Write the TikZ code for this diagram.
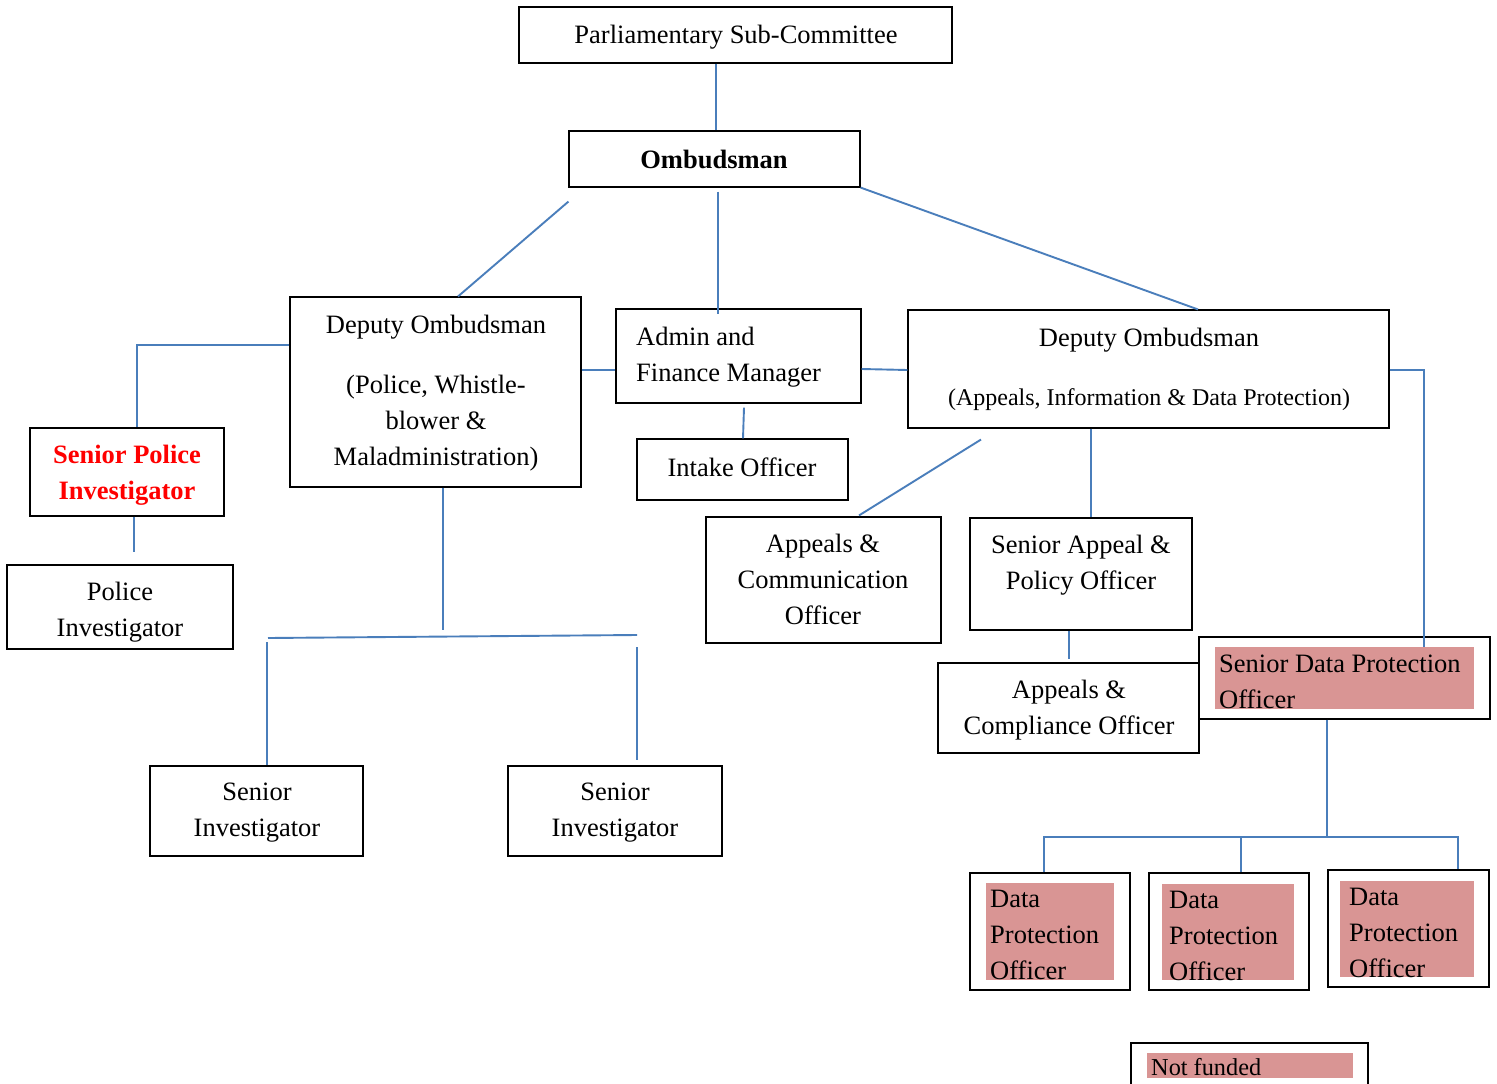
\documentclass[tikz,border=0pt]{standalone}
\usepackage{fontspec}
\setmainfont{Liberation Serif}
\definecolor{conncol}{HTML}{4A7EBB}
\definecolor{pinkfill}{HTML}{D99594}
\begin{document}
\begin{tikzpicture}[x=1pt,y=-1pt,
  box/.style={draw=black,line width=1.1pt,rectangle,inner sep=0pt},
  txt/.style={inner sep=0pt,font=\fontsize{26.5}{36}\selectfont,align=center},
  ltxt/.style={inner sep=0pt,font=\fontsize{26.5}{36}\selectfont,align=left,anchor=west},
  conn/.style={draw=conncol,line width=1.9pt},
  pinkbox/.style={fill=pinkfill,draw=none}]
\useasboundingbox (0,0) rectangle (1497,1084);
\fill[white] (0,0) rectangle (1497,1084);

% boxes
\node[box,minimum width=433pt,minimum height=56pt] (parl) at (735.5,35) {};
\node[box,minimum width=291pt,minimum height=56pt] (omb) at (714.5,159) {};
\node[box,minimum width=291pt,minimum height=190pt] (dl) at (435.5,392) {};
\node[box,minimum width=245pt,minimum height=94pt] (adm) at (738.5,356) {};
\node[box,minimum width=211pt,minimum height=61pt] (intake) at (742.5,469.5) {};
\node[box,minimum width=481pt,minimum height=118pt] (dr) at (1148.5,369) {};
\node[box,minimum width=194pt,minimum height=88pt] (spi) at (127,472) {};
\node[box,minimum width=226pt,minimum height=84pt] (pi) at (120,607) {};
\node[box,minimum width=235pt,minimum height=126pt] (acomm) at (823.5,580) {};
\node[box,minimum width=222pt,minimum height=112pt] (sapo) at (1081,574) {};
\node[box,minimum width=261pt,minimum height=90pt] (acomp) at (1068.5,708) {};
\node[box,minimum width=291pt,minimum height=82pt] (sdpo) at (1344.5,678) {};
\node[box,minimum width=213pt,minimum height=90pt] (si1) at (256.5,811) {};
\node[box,minimum width=214pt,minimum height=90pt] (si2) at (615,811) {};
\node[box,minimum width=160pt,minimum height=117pt] (dpo1) at (1050,931.5) {};
\node[box,minimum width=160pt,minimum height=117pt] (dpo2) at (1229,931.5) {};
\node[box,minimum width=161pt,minimum height=117pt] (dpo3) at (1408.5,928.5) {};
\node[box,minimum width=237pt,minimum height=57pt] (nf) at (1249.5,1071.5) {};

% pink highlights
\fill[pinkbox] (1215,647) rectangle (1474,709);
\fill[pinkbox] (986,883) rectangle (1114,980);
\fill[pinkbox] (1162,884) rectangle (1294,980);
\fill[pinkbox] (1340,881) rectangle (1474,977);
\fill[pinkbox] (1147,1053) rectangle (1353,1078);

% texts
\node[txt,anchor=base] (tparl) at (736,43) {Parliamentary Sub-Committee};
\node[txt,anchor=base,font=\fontsize{26.5}{36}\selectfont\bfseries] (tomb) at (714,168) {Ombudsman};
\node[txt,anchor=base] (tdl1) at (436,333) {Deputy Ombudsman};
\node[txt] (tdl2) at (436,423) {(Police, Whistle-\\blower \&\\Maladministration)};
\node[ltxt] (tadm) at (636,357) {Admin and\\Finance Manager};
\node[txt,anchor=base] (tint) at (742,476) {Intake Officer};
\node[txt,anchor=base] (tdr1) at (1149,346) {Deputy Ombudsman};
\node[txt,anchor=base,font=\fontsize{24}{32}\selectfont] (tdr2) at (1149,405) {(Appeals, Information \& Data Protection)};
\node[txt,text=red,font=\fontsize{26.5}{36}\selectfont\bfseries] (tspi) at (127,475) {Senior Police\\Investigator};
\node[txt] (tpi) at (120,612) {Police\\Investigator};
\node[txt] (tacomm) at (823,579) {Appeals \&\\Communication\\Officer};
\node[txt] (tsapo) at (1081,565) {Senior Appeal \&\\Policy Officer};
\node[txt] (tacomp) at (1069,710) {Appeals \&\\Compliance Officer};
\node[ltxt] (tsdpo) at (1219,682) {Senior Data Protection\\Officer};
\node[txt] (tsi1) at (257,813) {Senior\\Investigator};
\node[txt] (tsi2) at (615,813) {Senior\\Investigator};
\node[ltxt] (tdpo1) at (990,935) {Data\\Protection\\Officer};
\node[ltxt] (tdpo2) at (1169,936) {Data\\Protection\\Officer};
\node[ltxt] (tdpo3) at (1349,933) {Data\\Protection\\Officer};
\node[txt,anchor=base west,font=\fontsize{24.3}{32}\selectfont] (tnf) at (1151,1075) {Not funded};

% connectors
\draw[conn] ([xshift=-19.5pt]parl.south) -- ([xshift=1.5pt]omb.north);
\draw[conn] ([yshift=-14pt]omb.south west) -- ([xshift=22.5pt]dl.north);
\draw[conn] ([xshift=3.5pt,yshift=-4pt]omb.south) -- ([xshift=-20.5pt,yshift=-6pt]adm.north);
\draw[conn] (omb.south east) -- ([xshift=49.5pt]dr.north);
\draw[conn] ([yshift=22pt]dl.east) -- ([yshift=-14pt]adm.west);
\draw[conn] ([yshift=-13pt]adm.east) -- ([yshift=-1pt]dr.west);
\draw[conn] ([xshift=5.5pt,yshift=-4pt]adm.south) -- ([xshift=0.5pt]intake.north);
\draw[conn] ([yshift=47pt]dl.west) -| ([xshift=10pt]spi.north);
\draw[conn] ([xshift=7pt]spi.south) -- ([xshift=14pt,yshift=12pt]pi.north);
% left investigators bar
\coordinate (dlbot) at ([xshift=7.5pt,yshift=-142pt]dl.south);
\coordinate (barL) at (268,638);
\coordinate (barR) at (637,635);
\draw[conn] ([xshift=7.5pt]dl.south) -- (dlbot);
\draw[conn] (barL) -- (barR);
\draw[conn] ([xshift=10.5pt,yshift=123pt]si1.north) -- ([xshift=10.5pt]si1.north);
\draw[conn] ([xshift=22pt,yshift=118pt]si2.north) -- ([xshift=22pt,yshift=5pt]si2.north);
% right side
\draw[conn] ([xshift=-167.5pt,yshift=-11pt]dr.south) -- ([xshift=35.5pt,yshift=1pt]acomm.north);
\draw[conn] ([xshift=-57.5pt]dr.south) -- ([xshift=10pt]sapo.north);
\draw[conn] ([xshift=-12pt]sapo.south) -- ([xshift=0.5pt,yshift=3pt]acomp.north);
\draw[conn] ([yshift=-1pt]dr.east) -| ([xshift=79.5pt,yshift=-11pt]sdpo.north);
% data protection officers
\coordinate (bus) at ([xshift=-17.5pt,yshift=-117pt]sdpo.south);
\coordinate (d1t) at ([xshift=-6pt]dpo1.north);
\coordinate (d2t) at ([xshift=12pt]dpo2.north);
\coordinate (d3t) at ([xshift=49.5pt,yshift=0pt]dpo3.north);
\draw[conn] ([xshift=-17.5pt]sdpo.south) -- (bus);
\draw[conn] (d1t) |- (bus) -| (d3t);
\draw[conn] (d2t) -- (d2t |- bus);
\end{tikzpicture}
\end{document}
